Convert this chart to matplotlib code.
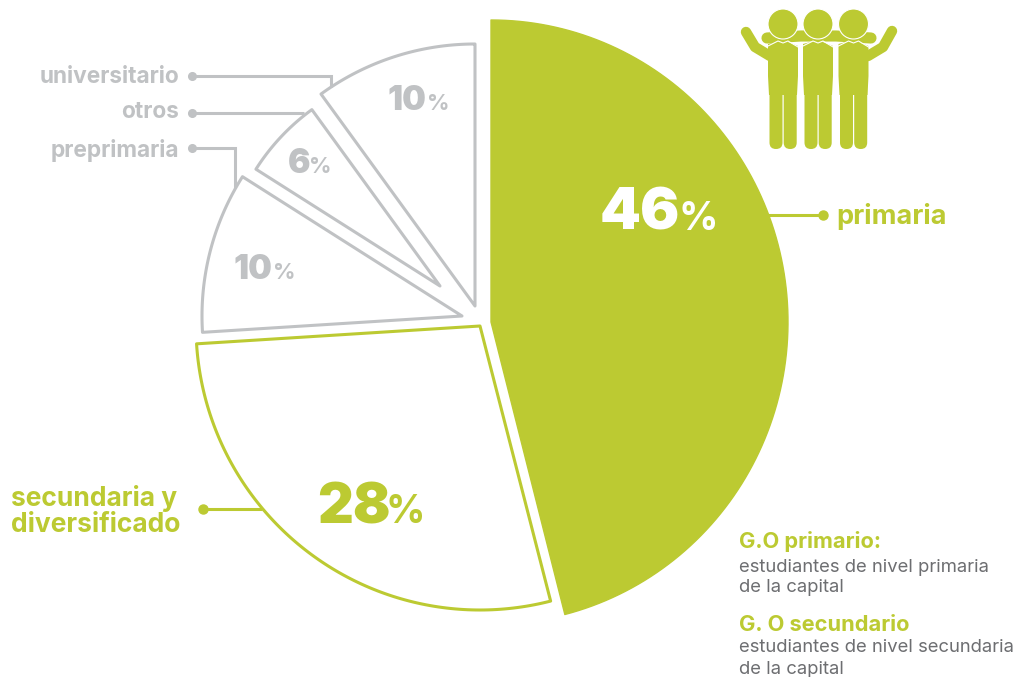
import matplotlib
matplotlib.use('Agg')
import matplotlib.pyplot as plt
import numpy as np
from matplotlib.patches import Polygon, Circle, FancyBboxPatch

plt.rcParams['font.family'] = ['Inter', 'DejaVu Sans']

# datos
categorias = ['primaria', 'secundaria y\ndiversificado', 'preprimaria', 'otros', 'universitario']
porcentajes = [46, 28, 10, 6, 10]

VERDE = '#bcca32'
GRIS = '#c0c2c4'
TEXTO = '#6d6e71'

# centro y radios (rx, ry) de cada porcion en pixeles
centros = [(491, 322), (480, 326), (462, 316), (440, 286), (475, 306)]
radios = [(297, 302), (284, 284), (260, 260), (218, 218), (262, 262)]

fig = plt.figure(figsize=(10.18, 6.77), dpi=100)
ax = fig.add_axes([0, 0, 1, 1])
ax.set_xlim(0, 1018)
ax.set_ylim(677, 0)
ax.axis('off')


def porcion(c, r, a0, a1, **kw):
    t = np.radians(np.linspace(a0, a1, 120))
    xs = c[0] + r[0] * np.cos(t)
    ys = c[1] - r[1] * np.sin(t)
    pts = np.vstack([[c], np.column_stack([xs, ys])])
    ax.add_patch(Polygon(pts, closed=True, joinstyle='round', **kw))


# pastel: empieza arriba y va en sentido horario
angulo = 90
for i, p in enumerate(porcentajes):
    fin = angulo - p * 3.6
    if i == 0:
        porcion(centros[i], radios[i], angulo, fin, fc=VERDE, ec=VERDE, lw=1)
    elif i == 1:
        porcion(centros[i], radios[i], angulo, fin, fc='white', ec=VERDE, lw=2.2)
    else:
        porcion(centros[i], radios[i], angulo, fin, fc='white', ec=GRIS, lw=2.2)
    angulo = fin


def etiqueta_pct(x, y, valor, color, s1, s2, ajuste):
    t = ax.text(x, y, str(valor), color=color, fontsize=s1, fontweight='black',
                ha='left', va='baseline')
    fig.canvas.draw()
    bb = t.get_window_extent()
    ax.text(bb.x1 + ajuste, y, '%', color=color, fontsize=s2, fontweight='bold',
            ha='left', va='baseline')


etiqueta_pct(600, 230, porcentajes[0], 'white', 42, 28, -2)
etiqueta_pct(317, 523, porcentajes[1], VERDE, 40, 28, -5)
etiqueta_pct(234, 279, porcentajes[2], GRIS, 24, 16, 0)
etiqueta_pct(288, 173, porcentajes[3], GRIS, 24, 16, -1)
etiqueta_pct(388, 110, porcentajes[4], GRIS, 24, 16, 0)


# lineas guia
def guia(xs, ys, color):
    ax.plot(xs, ys, color=color, lw=2.2, solid_joinstyle='miter', solid_capstyle='butt')
    ax.plot(xs[0], ys[0], 'o', color=color, ms=5.5 if color == GRIS else 6.5)


guia([192, 331, 331], [76, 76, 87], GRIS)
guia([192, 304], [113, 113], GRIS)
guia([192, 235, 235], [148, 148, 188], GRIS)
guia([823, 768], [215, 215], VERDE)
guia([203, 262], [509, 509], VERDE)

# nombres de las categorias
ax.text(179, 77, categorias[4], color=GRIS, fontsize=16.3, fontweight='bold', ha='right', va='center')
ax.text(179, 112, categorias[3], color=GRIS, fontsize=16.3, fontweight='bold', ha='right', va='center')
ax.text(179, 150, categorias[2], color=GRIS, fontsize=16.3, fontweight='bold', ha='right', va='center')
ax.text(836, 216, categorias[0], color=VERDE, fontsize=19.5, fontweight='bold', ha='left', va='center')
ax.text(11, 511, categorias[1], color=VERDE, fontsize=19, fontweight='bold', ha='left', va='center',
        linespacing=1.0)

# notas
ax.text(739, 542, 'G.O primario:', color=VERDE, fontsize=15.7, fontweight='bold', ha='left', va='center')
ax.text(739, 567, 'estudiantes de nivel primaria', color=TEXTO, fontsize=13.3, ha='left', va='center')
ax.text(739, 588, 'de la capital', color=TEXTO, fontsize=13.3, ha='left', va='center')
ax.text(739, 625, 'G. O secundario', color=VERDE, fontsize=15.7, fontweight='bold', ha='left', va='center')
ax.text(739, 648, 'estudiantes de nivel secundaria', color=TEXTO, fontsize=13.3, ha='left', va='center')
ax.text(739, 670, 'de la capital', color=TEXTO, fontsize=13.3, ha='left', va='center')


# icono de las tres personas abrazadas
def barra(x, y, w, h, rad):
    ax.add_patch(FancyBboxPatch((x + rad, y + rad), w - 2 * rad, h - 2 * rad,
                                boxstyle=f'round,pad={rad}', fc=VERDE, ec='none', zorder=3))


for cx in [783, 818, 853.5]:
    ax.add_patch(Polygon([(cx - 15, 44), (cx, 40), (cx + 15, 46), (cx + 15, 76), (cx + 14, 95),
                          (cx - 14, 95), (cx - 15, 76)], closed=True, fc=VERDE, ec='none', zorder=3))
    barra(cx - 13.5, 80, 13, 69, 6.4)
    barra(cx + 0.7, 80, 13, 69, 6.4)
    ax.plot([cx - 15, cx - 5, cx, cx + 5, cx + 15], [46, 41, 43, 41, 47], color='white', lw=0.8, zorder=4)
    ax.add_patch(Circle((cx, 24), 15, fc=VERDE, ec='white', lw=0.8, zorder=5))

# brazos
ax.plot([746, 755, 770], [32, 47, 56], color=VERDE, lw=7.5, solid_capstyle='round', zorder=2)
ax.plot([892, 883, 868], [31, 47, 56], color=VERDE, lw=7.5, solid_capstyle='round', zorder=2)
ax.plot([767, 801, 836, 871], [38, 36, 36, 38], color=VERDE, lw=8, solid_capstyle='round', zorder=2)

fig.savefig('out.png', dpi=100)
